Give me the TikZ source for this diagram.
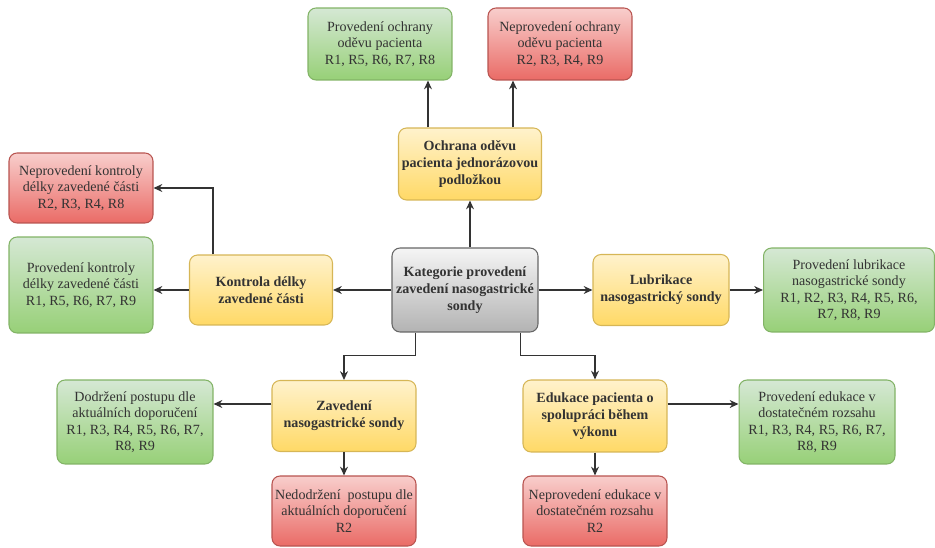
\documentclass[tikz,border=0pt]{standalone}
\usepackage{fontspec}
\setmainfont{Liberation Serif}
\newfontfamily\boxfont{Liberation Serif}
\usetikzlibrary{arrows.meta}

\definecolor{okTop}{HTML}{D5E8D4}
\definecolor{okBot}{HTML}{97D077}
\definecolor{okLine}{HTML}{82B366}
\definecolor{nokTop}{HTML}{F8CECC}
\definecolor{nokBot}{HTML}{EA6B66}
\definecolor{nokLine}{HTML}{B85450}
\definecolor{catTop}{HTML}{FFF2CC}
\definecolor{catBot}{HTML}{FFD966}
\definecolor{catLine}{HTML}{D6B656}
\definecolor{midTop}{HTML}{F5F5F5}
\definecolor{midBot}{HTML}{B3B3B3}
\definecolor{midLine}{HTML}{666666}

\tikzset{
  box/.style={rounded corners=0.16cm, align=center, inner sep=1pt, line width=0.6pt,
    font=\boxfont\fontsize{8}{9.4}\selectfont, text=black!80},
  okbox/.style={box, draw=okLine, top color=okTop, bottom color=okBot},
  nokbox/.style={box, draw=nokLine, top color=nokTop, bottom color=nokBot},
  catbox/.style={box, draw=catLine, top color=catTop, bottom color=catBot, font=\boxfont\fontsize{8}{9.8}\selectfont\bfseries},
  midbox/.style={box, draw=midLine, top color=midTop, bottom color=midBot, font=\boxfont\fontsize{8}{9.8}\selectfont\bfseries},
  arr/.style={->, line width=0.7pt, draw=black!80}
}

\begin{document}
\begin{tikzpicture}[x=0.02cm, y=-0.02cm, >={Stealth[length=5pt,width=4.5pt]}]
\useasboundingbox (0,0) rectangle (935,547);

% center
\node[midbox, minimum width=2.92cm, minimum height=1.68cm] (kat) at (465,290)
  {Kategorie provedení\\zavedení nasogastrické\\sondy};

% categories
\node[catbox, minimum width=2.86cm, minimum height=1.44cm] (ochrana) at (470,164)
  {Ochrana oděvu\\pacienta jednorázovou\\podložkou};
\node[catbox, minimum width=2.86cm, minimum height=1.40cm] (kontrola) at (261,290)
  {Kontrola délky\\zavedené části};
\node[catbox, minimum width=2.72cm, minimum height=1.42cm] (lubrikace) at (661,290)
  {Lubrikace\\nasogastrický sondy};
\node[catbox, minimum width=2.88cm, minimum height=1.42cm] (zav) at (344,416)
  {Zavedení\\nasogastrické sondy};
\node[catbox, minimum width=2.88cm, minimum height=1.44cm] (edu) at (595,416)
  {Edukace pacienta o\\spolupráci během\\výkonu};

% results
\node[okbox, minimum width=2.88cm, minimum height=1.44cm] (ok1) at (380,44)
  {Provedení ochrany\\oděvu pacienta\\R1, R5, R6, R7, R8};
\node[nokbox, minimum width=2.88cm, minimum height=1.44cm] (nok1) at (560,44)
  {Neprovedení ochrany\\oděvu pacienta\\R2, R3, R4, R9};
\node[nokbox, minimum width=2.88cm, minimum height=1.40cm] (nok2) at (81,188)
  {Neprovedení kontroly\\délky zavedené části\\R2, R3, R4, R8};
\node[okbox, minimum width=2.88cm, minimum height=1.92cm] (ok2) at (81,285)
  {Provedení kontroly\\délky zavedené části\\R1, R5, R6, R7, R9};
\node[okbox, minimum width=3.42cm, minimum height=1.68cm] (ok3) at (849,290)
  {Provedení lubrikace\\nasogastrické sondy\\R1, R2, R3, R4, R5, R6,\\R7, R8, R9};
\node[okbox, minimum width=3.12cm, minimum height=1.68cm] (ok4) at (135,422)
  {Dodržení postupu dle\\aktuálních doporučení\\R1, R3, R4, R5, R6, R7,\\R8, R9};
\node[nokbox, minimum width=2.88cm, minimum height=1.40cm] (nok4) at (344,511)
  {Nedodržení\ \ postupu dle\\aktuálních doporučení\\R2};
\node[okbox, minimum width=3.12cm, minimum height=1.68cm] (ok5) at (817,422)
  {Provedení edukace v\\dostatečném rozsahu\\R1, R3, R4, R5, R6, R7,\\R8, R9};
\node[nokbox, minimum width=2.88cm, minimum height=1.40cm] (nok5) at (595,511)
  {Neprovedení edukace v\\dostatečném rozsahu\\R2};

% connectors
\draw[arr] (ochrana.south |- kat.north) -- (ochrana.south);
\draw[arr] ([xshift=0.6cm]ochrana.north west) -- ([xshift=0.6cm]ochrana.north west |- ok1.south);
\draw[arr] ([xshift=-0.58cm]ochrana.north east) -- ([xshift=-0.58cm]ochrana.north east |- nok1.south);
\draw[arr] (kat.west) -- (kontrola.east);
\draw[arr] (kontrola.west) -- (kontrola.west -| ok2.east);
\draw[arr] ([xshift=0.48cm]kontrola.north west) |- (nok2.east);
\draw[arr] (kat.east) -- (lubrikace.west);
\draw[arr] (lubrikace.east) -- (ok3.west);
\draw[arr] ([xshift=0.48cm]kat.south west) -- ++(0,23) -| (zav.north);
\draw[arr] ([xshift=-0.36cm]kat.south east) -- ++(0,23) -| (edu.north);
\draw[arr] ([yshift=0.24cm]zav.west) -- ([yshift=0.24cm]zav.west -| ok4.east);
\draw[arr] (zav.south) -- (nok4.north);
\draw[arr] ([yshift=0.24cm]edu.east) -- ([yshift=0.24cm]edu.east -| ok5.west);
\draw[arr] (edu.south) -- (nok5.north);
\end{tikzpicture}
\end{document}
